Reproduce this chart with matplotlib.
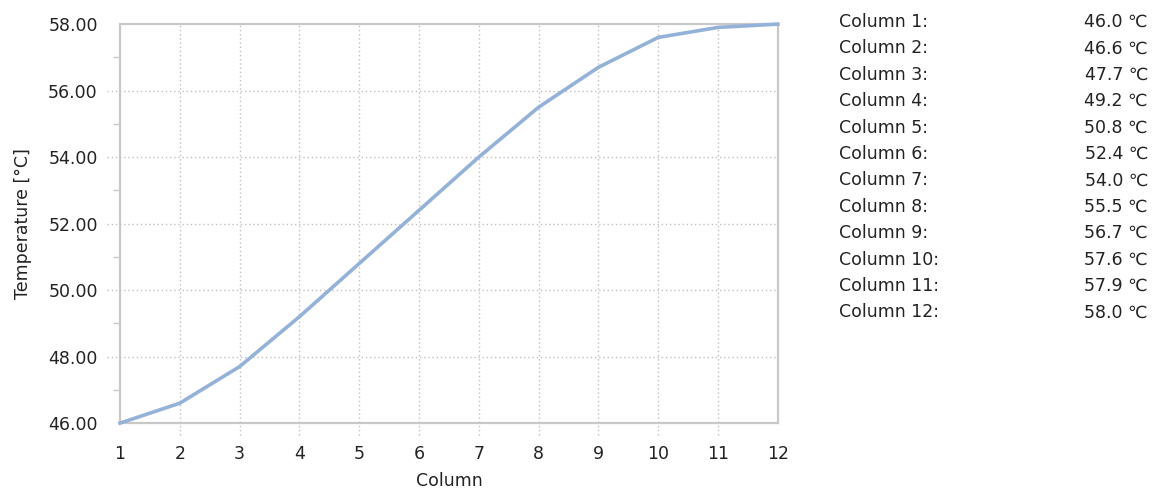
import numpy as np
import matplotlib.pyplot as plt
from matplotlib.ticker import MultipleLocator, FormatStrFormatter

# dane
kolumny = list(range(1, 13))
temperatury = [46.0, 46.6, 47.7, 49.2, 50.8, 52.4, 54.0, 55.5, 56.7, 57.6, 57.9, 58.0]
etykiety = [f'Column {k}:' for k in kolumny]

plt.rcParams['font.family'] = ['DejaVu Sans']
plt.rcParams['font.size'] = 12.5

fig = plt.figure(figsize=(11.54, 4.92), dpi=100)
ax = fig.add_axes([0.104, 0.140, 0.570, 0.811])

ax.plot(kolumny, temperatury, color='#94b2d8', linewidth=2.6, clip_on=False, zorder=3)

ax.set_xlim(1, 12)
ax.set_ylim(46, 58)
ax.set_xticks(kolumny)
ax.yaxis.set_major_locator(MultipleLocator(2))
ax.yaxis.set_minor_locator(MultipleLocator(1))
ax.yaxis.set_major_formatter(FormatStrFormatter('%.2f'))

ax.tick_params(axis='both', which='major', length=0, pad=16, labelcolor='#222222')
ax.tick_params(axis='y', which='minor', length=5, width=1, color='#c8c8c8', direction='out')

for s in ax.spines.values():
    s.set_color('#c8c8c8')
    s.set_linewidth(1.6)

# siatka kropkowana wystajaca poza osie
for k in kolumny[1:-1]:
    ax.axvline(k, ymin=-0.03, ymax=1, color='#c0c0c0', linestyle=(0, (1, 2)), linewidth=1.0, clip_on=False, zorder=1)
for t in np.arange(48, 58, 2):
    ax.axhline(t, xmin=-0.02, xmax=1, color='#c0c0c0', linestyle=(0, (1, 2)), linewidth=1.0, clip_on=False, zorder=1)

ax.set_xlabel('Column', color='#222222', labelpad=6)
ax.set_ylabel('Temperature [°C]', color='#222222', labelpad=12)

# lista wartosci po prawej
for i, (lab, t) in enumerate(zip(etykiety, temperatury)):
    y = 1 - (22 + i * 26.4) / 492
    fig.text(839 / 1154, y, lab, ha='left', va='center', color='#222222')
    fig.text(1148 / 1154, y, f'{t:.1f} ℃', ha='right', va='center', color='#222222')

plt.savefig('out.png', dpi=100)
